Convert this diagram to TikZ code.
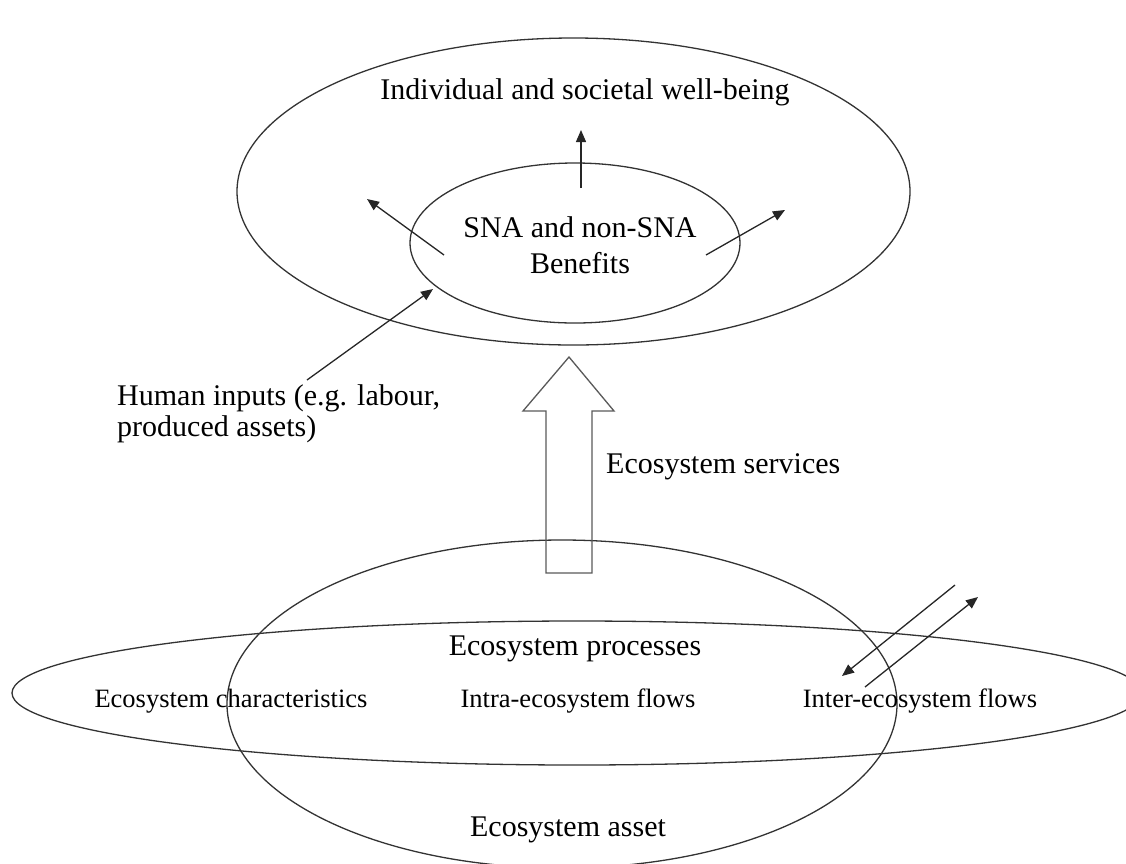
\documentclass[tikz,border=0pt]{standalone}
\usepackage{fontspec}
\setmainfont{Liberation Serif}
\usetikzlibrary{arrows.meta,shapes.geometric}
\begin{document}
\begin{tikzpicture}[x=1pt,y=-1pt,
  oval/.style={draw=black!80, line width=1.3pt, ellipse, inner sep=0pt, outer sep=0pt},
  big/.style={font=\fontsize{30}{36}\selectfont, inner sep=0pt},
  small/.style={font=\fontsize{26.5}{32}\selectfont, inner sep=0pt},
  arr/.style={draw=black!85, line width=1.3pt, -{Triangle[length=12pt,width=10pt]}},
  blockarrow/.style={draw=black!65, line width=1.3pt, line join=miter},
]
\useasboundingbox (0,0) rectangle (1126,863);
\clip (0,0) rectangle (1126,863);

% ellipses
\node[oval, minimum width=673pt, minimum height=307pt] (outer) at (573.5,191.5) {};
\node[oval, minimum width=330pt, minimum height=160pt] (inner) at (575,243) {};
\node[oval, minimum width=1130pt, minimum height=144pt] (wide) at (577,693) {};
\node[oval, minimum width=670pt, minimum height=328pt] (tall) at (562,704) {};

% texts
\node[big] (wellbeing) at (585,92) {Individual and societal well-being};
\node[big, align=center, font=\fontsize{30}{36}\selectfont] (benefits) at (580,245) {SNA and non-SNA\\Benefits};
\node[big, align=left, anchor=west, font=\fontsize{30}{31}\selectfont] (human) at (117,414) {Human inputs (e.g. labour,\\produced assets)};
\node[big, anchor=west] (services) at (606,467) {Ecosystem services};
\node[big] (processes) at (575,649) {Ecosystem processes};
\node[small] (charac) at (231,701) {Ecosystem characteristics};
\node[small] (intra) at (578,701) {Intra-ecosystem flows};
\node[small] (inter) at (920,701) {Inter-ecosystem flows};
\node[big] (asset) at (568,830) {Ecosystem asset};

% arrow end points
\coordinate (upS) at (581,188);
\coordinate (upE) at (581,130);
\coordinate (lS) at (444,255);
\coordinate (lE) at (367,199);
\coordinate (rS) at (706,255);
\coordinate (rE) at (785,210);
\coordinate (hS) at (307,380);
\coordinate (hE) at (433,289);
\coordinate (i1S) at (955,585);
\coordinate (i1E) at (842,676);
\coordinate (i2S) at (865,687);
\coordinate (i2E) at (978,597);

\draw[arr] (upS) -- (upE);
\draw[arr] (lS) -- (lE);
\draw[arr] (rS) -- (rE);
\draw[arr] (hS) -- (hE);
\draw[arr] (i1S) -- (i1E);
\draw[arr] (i2S) -- (i2E);

% block arrow (ecosystem services)
\coordinate (baTip) at (569,357);
\draw[blockarrow] (546,573) -- (546,411) -- (523,411) -- (baTip) -- (614,411) -- (592,411) -- (592,573) -- cycle;
\end{tikzpicture}
\end{document}
